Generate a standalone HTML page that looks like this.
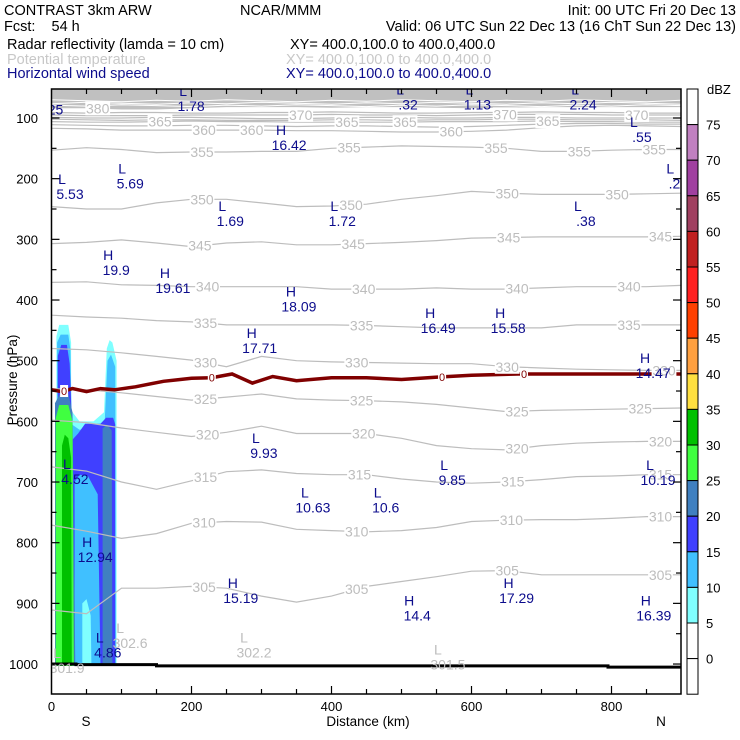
<!DOCTYPE html>
<html><head><meta charset="utf-8">
<style>
html,body{margin:0;padding:0;background:#fff;}
svg{display:block;font-family:"Liberation Sans",sans-serif;}
</style></head>
<body>
<svg id="chart" width="740" height="740" viewBox="0 0 740 740" xmlns="http://www.w3.org/2000/svg">
<g font-size="14.5">
<text x="4" y="15" fill="#000">CONTRAST  3km ARW</text>
<text x="240" y="15" fill="#000">NCAR/MMM</text>
<text x="736" y="15" text-anchor="end" fill="#000">Init: 00 UTC Fri 20 Dec 13</text>
<text x="4" y="31" fill="#000" xml:space="preserve">Fcst:    54 h</text>
<text x="736" y="31" text-anchor="end" fill="#000">Valid: 06 UTC Sun 22 Dec 13 (16 ChT Sun 22 Dec 13)</text>
<text x="7" y="49" fill="#000">Radar reflectivity (lamda = 10 cm)</text>
<text x="290" y="49" fill="#000">XY= 400.0,100.0 to 400.0,400.0</text>
<text x="7" y="64" fill="#c8c8c8">Potential temperature</text>
<text x="286" y="64" fill="#c8c8c8">XY= 400.0,100.0 to 400.0,400.0</text>
<text x="7" y="78" fill="#0c0c8c">Horizontal wind speed</text>
<text x="286" y="78" fill="#0c0c8c">XY= 400.0,100.0 to 400.0,400.0</text>
</g>
<defs><clipPath id="pc"><rect x="51.5" y="89" width="629.5" height="605"/></clipPath></defs>
<g id="plot" clip-path="url(#pc)"></g>
<g id="axes"></g>
<g id="cbar"></g>
</svg>
<script>
// ---- data ----
const KM = [0,50,100,150,200,250,300,350,400,450,500,550,600,650,700,750,800,850,899];
const thetaLevels = [305,310,315,320,325,330,335,340,345,350,355,360,365,370];
const theta305 = [911,917,875,875,872,875,888,898,888,872,864,856,847,846,853,853,853,853,853];
const theta310 = [771,781,793,785,768,765,766,778,780,782,780,775,765,763,762,762,760,757,757];
const theta315 = [675,682,700,712,698,683,680,686,688,688,695,700,702,700,696,691,690,688,688];
const theta320 = [598,602,611,618,625,618,608,620,620,620,628,640,645,647,640,636,634,633,633];
const theta325 = [546,548,553,559,565,560,555,563,565,566,568,572,578,584,582,581,580,579,578];
const theta330 = [480,482,487,493,499,510,493,500,502,503,504,505,505,510,512,514,515,516,516];
const theta335 = [425,428,430,434,436,441,441,441,441,442,444,446,446,446,446,441,441,441,441];
const theta340 = [371,370,375,376,378,378,378,378,382,382,382,380,382,382,380,378,378,378,376];
const theta345 = [307,305,301,306,312,306,304,309,309,307,305,302,298,297,296,296,296,296,295];
const theta350 = [246,250,250,240,234,234,240,246,245,242,234,228,221,224,226,226,226,225,224];
const theta355 = [153,149,152,157,156,156,155,155,150,148,146,147,148,150,155,155,153,152,152];
const theta360 = [117,118,120,120,120,120,120,121,121,122,123,123,122,120,116,113,112,113,114];
const theta365 = [106,107,107,106,105,106,106,107,107,107,107,106,106,106,105,106,106,107,107];
const theta370 = [95,96,96,96,95,95,95,95,94,95,95,96,95,94,94,94,95,95,95];
const thetaExtra = [[99,100,100,99,99,100,101,101,100,99,99,100,100,99,99,100,100,100,100],
                    [91,92,91,91,92,92,91,91,90,91,92,92,91,91,90,91,91,92,92],
                    [111,112,113,113,112,112,113,114,113,113,114,115,114,112,110,109,109,110,110],
                    [102,103,104,103,103,104,104,104,103,103,104,103,103,102,102,103,103,103,104]];
const stratoBottom = [84,84,86,86,84,82,82,82,83,82,82,83,84,83,82,82,82,82,82];
const thetaLabelKm = {305:[218,436,651,870],310:[218,436,657,870],315:[220,440,659,870],320:[223,446,665,870],
  325:[220,443,665,841],330:[220,436,651,875],335:[220,443,825],340:[223,446,665,825],345:[212,431,653,870],
  350:[215,428,651,808],355:[215,425,635,754,861],360:[218,286,571],365:[155,422,505,709],370:[356,648,836]};
const zeroKm = [0,15,30,50,70,90,120,160,200,229,258,287,316,350,400,450,500,551,600,667,750,899];
const zeroP  = [548,551,546,551,546,548,543,534,529,528,522,537,526,533,528,528,531,527,524,522,522,522];
const zeroLabelKm = [18,229,558,675];
const sfcKm = [0,35,35,150,150,795,795,899];
const sfcP  = [1000,1000,1001,1001,1003,1003,1005,1005];
// wind speed extrema
const windType  = ['L','L','L','L','L','L','H','L','L','L','L','L','L','H','H','H','H','H','H','H','L','L','L','L','L','L','H','H','H','H','H','L'];
const windValue = ['2.25','1.78','.32','1.13','2.24','.55','16.42','5.53','5.69','.26','1.69','1.72','.38','19.9','19.61','18.09','16.49','15.58','17.71','14.47','9.93','9.85','10.19','10.63','10.6','4.52','12.94','15.19','17.29','14.4','16.39','4.86'];
const windKm    = [-14,188,498,597,748,832,328,15,101,884,244,404,752,81,162,342,541,641,286,848,292,561,855,362,466,22,51,259,653,511,849,69];
const windP     = [60,54,51,51,51,105,118,199,182,182,243,243,243,324,354,384,420,420,453,494,626,670,670,716,716,669,797,865,865,894,894,955];
// theta minima labels
const tminValue = ['302.6','302.2','301.5','301.9'];
const tminKm    = [98,275,552,8];
const tminP     = [939,955,974,980];
// reflectivity polygons [km,hPa]
const reflCyan  = [[7,1003],[7,460],[11,441],[24,441],[28,470],[28,582],[40,600],[60,600],[75,585],[79,480],[83,466],[87,470],[93,500],[93,1003]];
const reflLBlue = [[8,1003],[8,470],[13,457],[24,457],[27,482],[29,605],[40,614],[60,612],[76,600],[80,500],[85,490],[91,510],[92,1003]];
const reflBlue  = [[9,1003],[9,492],[14,474],[22,474],[26,505],[30,630],[38,620],[48,604],[70,604],[78,594],[88,594],[91,605],[91,1003]];
const reflLBlue2= [[33,1003],[33,700],[40,688],[52,690],[66,720],[70,1003]];
const reflCyan2 = [[44,1003],[44,900],[50,893],[56,920],[57,1003]];
const reflSteel1= [[5,1003],[5,570],[12,555],[24,555],[30,585],[34,1003]];
const reflSteel2= [[73,1003],[73,612],[79,605],[86,615],[87,1003]];
const reflLGreen= [[6,1003],[6,595],[11,573],[24,573],[30,600],[32,1003]];
const reflGreen = [[15,1003],[15,640],[19,622],[24,628],[28,660],[29,1003]];
// colorbar
const cbLabels = ['75','70','65','60','55','50','45','40','35','30','25','20','15','10','5','0'];
const cbColors = ['#ffffff','#c080c0','#a040a0','#a04060','#c02020','#ff2020','#ff4000','#ffa040','#ffe040','#00c000','#40ff40','#4080c0','#4040ff','#40c0ff','#80ffff','#ffffff','#ffffff'];
const yTicks = [100,200,300,400,500,600,700,800,900,1000];
const xTicks = [0,200,400,600,800];

// ---- axes functions ----
const NS='http://www.w3.org/2000/svg';
const X0=51.5, X1=681, Y0=89, Y1=694;
const xS = km => 51.5 + km*0.7;
const yS = p => 118 + (p-100)*0.6067;
function mk(tag, attrs, parent){const e=document.createElementNS(NS,tag);for(const k in attrs)e.setAttribute(k,attrs[k]);parent.appendChild(e);return e;}
const plot=document.getElementById('plot'), axes=document.getElementById('axes'), cbar=document.getElementById('cbar');
const thetaArr={305:theta305,310:theta310,315:theta315,320:theta320,325:theta325,330:theta330,335:theta335,340:theta340,345:theta345,350:theta350,355:theta355,360:theta360,365:theta365,370:theta370};
function interp(xs,ys,x){for(let i=0;i<xs.length-1;i++){if(x<=xs[i+1]){const t=(x-xs[i])/(xs[i+1]-xs[i]);return ys[i]+t*(ys[i+1]-ys[i]);}}return ys[ys.length-1];}
function pathOf(xs,ps){return xs.map((k,i)=>(i?'L':'M')+xS(k).toFixed(1)+','+yS(ps[i]).toFixed(1)).join(' ');}

// stratosphere band
let sp='M'+xS(0)+','+Y0+' '+KM.map((k,i)=>'L'+xS(k).toFixed(1)+','+yS(stratoBottom[i]).toFixed(1)).join(' ')+' L'+xS(899)+','+Y0+' Z';
const band=mk('path',{d:sp,fill:'#c0c0c0'},plot);


[[70,73],[74,77],[78,80]].forEach((r,j)=>{
  const ps=KM.map((k,i)=>r[0]+((i*7+j*3)%5)*0.8);
  const l=mk('path',{d:pathOf(KM,ps),fill:'none',stroke:'#fff','stroke-width':1},plot);
  
  
});

// reflectivity
const reflLayers=[[reflCyan,'#80ffff'],[reflLBlue,'#40c0ff'],[reflBlue,'#4040ff'],[reflLBlue2,'#40c0ff'],[reflCyan2,'#80ffff'],[reflSteel1,'#4080c0'],[reflSteel2,'#4080c0'],[reflLGreen,'#40ff40'],[reflGreen,'#00c000']];
reflLayers.forEach(([poly,c])=>{
  const e=mk('polygon',{points:poly.map(q=>xS(q[0]).toFixed(1)+','+yS(q[1]).toFixed(1)).join(' '),fill:c},plot);
  
  
});

// theta contours
thetaExtra.forEach(ps=>{
  const l=mk('path',{d:pathOf(KM,ps),fill:'none',stroke:'#bdbdbd','stroke-width':1.2},plot);
  
  
});
thetaLevels.forEach(lv=>{
  const l=mk('path',{d:pathOf(KM,thetaArr[lv]),fill:'none',stroke:'#bdbdbd','stroke-width':1.2},plot);
  
  
});
// zero line
const zl=mk('path',{d:pathOf(zeroKm,zeroP),fill:'none',stroke:'#800000','stroke-width':3.5},plot);


// surface
const sl=mk('path',{d:pathOf(sfcKm,sfcP),fill:'none',stroke:'#000','stroke-width':3},plot);



// theta labels
function boxLabel(txt,cx,cy,color,name){
  const w=txt.length*7.6+2;
  const r=mk('rect',{x:cx-w/2,y:cy-7,width:w,height:14,fill:'#fff'},plot);
  
  
  const t=mk('text',{x:cx,y:cy+5,'text-anchor':'middle','font-size':14,fill:color},plot);
  t.textContent=txt;
  
  
}
thetaLevels.forEach(lv=>{(thetaLabelKm[lv]||[]).forEach(k=>{boxLabel(String(lv),xS(k),yS(interp(KM,thetaArr[lv],k)),'#bdbdbd','theta-label');});});
boxLabel('380',xS(66),yS(84),'#bdbdbd','theta-label');
zeroLabelKm.forEach(k=>{
  const cx=xS(k), cy=yS(interp(zeroKm,zeroP,k));
  const r=mk('rect',{x:cx-4,y:cy-6,width:8,height:12,fill:'#fff'},plot);
  
  
  const t=mk('text',{x:cx,y:cy+4,'text-anchor':'middle','font-size':11,fill:'#800000'},plot);
  t.textContent='0';
  
  
});
// wind extrema
windType.forEach((tp,i)=>{
  const cx=xS(windKm[i]), cy=yS(windP[i]);
  const a=mk('text',{x:cx,y:cy+6,'text-anchor':'middle','font-size':14,fill:'#0c0c8c'},plot);
  a.textContent=tp;
  
  
  const b=mk('text',{x:cx+8,y:cy+21,'text-anchor':'middle','font-size':14,fill:'#0c0c8c'},plot);
  b.textContent=windValue[i];
  
  
});
tminValue.forEach((v,i)=>{
  const cx=xS(tminKm[i]), cy=yS(tminP[i]);
  const a=mk('text',{x:cx,y:cy+6,'text-anchor':'middle','font-size':14,fill:'#bdbdbd'},plot);
  a.textContent='L';
  
  
  const b=mk('text',{x:cx+10,y:cy+21,'text-anchor':'middle','font-size':14,fill:'#bdbdbd'},plot);
  b.textContent=v;
  
  
});

// axes frame + ticks
const fr=mk('rect',{x:X0,y:Y0,width:X1-X0,height:Y1-Y0,fill:'none',stroke:'#000','stroke-width':1.5},axes);


for(let p=100;p<=1050;p+=50){
  const y=yS(p); if(y<Y0||y>Y1) continue;
  const L=(p%100===0)?8:5;
  const a=mk('line',{x1:X0,y1:y,x2:X0+L,y2:y,stroke:'#000','stroke-width':1.2},axes);
  
  
  const b=mk('line',{x1:X1,y1:y,x2:X1-L,y2:y,stroke:'#000','stroke-width':1.2},axes);
  
  
}
yTicks.forEach(p=>{
  const t=mk('text',{x:38,y:yS(p)+5,'text-anchor':'end','font-size':13,fill:'#000'},axes);
  t.textContent=String(p);
  
  
});
for(let k=50;k<899;k+=50){
  const x=xS(k), L=(k%200===0)?8:5;
  const a=mk('line',{x1:x,y1:Y1,x2:x,y2:Y1-L,stroke:'#000','stroke-width':1.2},axes);
  
  
  const b=mk('line',{x1:x,y1:Y0,x2:x,y2:Y0+L,stroke:'#000','stroke-width':1.2},axes);
  
  
}
xTicks.forEach(k=>{
  const t=mk('text',{x:xS(k),y:711,'text-anchor':'middle','font-size':13,fill:'#000'},axes);
  t.textContent=String(k);
  
  
});
[['S',86,'x-axis-south'],['N',661,'x-axis-north'],['Distance (km)',368,'x-axis-title']].forEach(([s,x,n])=>{
  const t=mk('text',{x:x,y:726,'text-anchor':'middle','font-size':13.5,fill:'#000'},axes);
  t.textContent=s;
  
  
});
const yt=mk('text',{x:0,y:0,'text-anchor':'middle','font-size':13.5,fill:'#000',transform:'translate(17,380) rotate(-90)'},axes);
yt.textContent='Pressure (hPa)';



// colorbar
const CB0=89, CBH=35.6;
cbColors.forEach((c,i)=>{
  const r=mk('rect',{x:687,y:CB0+i*CBH,width:11,height:CBH,fill:c,stroke:'#000','stroke-width':1},cbar);
  
  
});
cbLabels.forEach((s,i)=>{
  const t=mk('text',{x:706,y:CB0+(i+1)*CBH+5,'font-size':13,fill:'#000'},cbar);
  t.textContent=s;
  
  
});
const du=mk('text',{x:707,y:94,'font-size':13,fill:'#000'},cbar);
du.textContent='dBZ';


</script>
</body></html>
